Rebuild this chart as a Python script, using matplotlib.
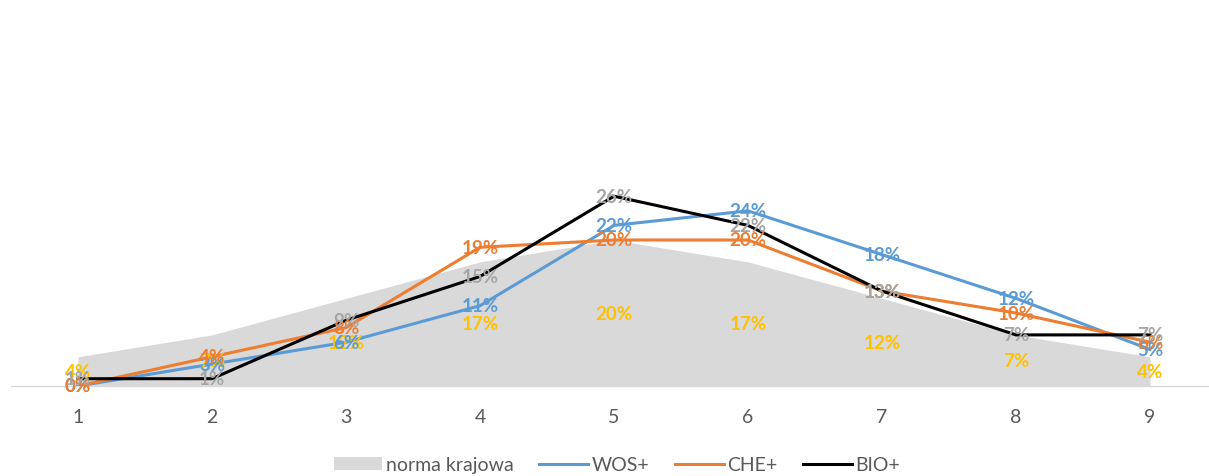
import matplotlib
matplotlib.use("Agg")
import matplotlib.pyplot as plt
from matplotlib.patches import Patch
from matplotlib.lines import Line2D

categories = [1, 2, 3, 4, 5, 6, 7, 8, 9]
norma = [4, 7, 12, 17, 20, 17, 12, 7, 4]
wos = [0, 3, 6, 11, 22, 24, 18, 12, 5]
che = [0, 4, 8, 19, 20, 20, 13, 10, 6]
bio = [1, 1, 9, 15, 26, 22, 13, 7, 7]

plt.rcParams['font.family'] = ['Lato', 'DejaVu Sans']

fig = plt.figure(figsize=(12.09, 4.77), dpi=100)
ax = fig.add_axes([11 / 1209, 1 - 387 / 477, 1206 / 1209, 365 / 477])

ax.fill_between(categories, 0, norma, color='#D9D9D9', lw=0, zorder=1)
ax.plot(categories, wos, color='#5B9BD5', lw=2.2, zorder=2, solid_joinstyle='round')
ax.plot(categories, che, color='#ED7D31', lw=2.2, zorder=3, solid_joinstyle='round')
ax.plot(categories, bio, color='#000000', lw=2.2, zorder=4, solid_joinstyle='round')

lab_kw = dict(ha='center', va='center', fontsize=13.5, fontweight='bold')
for x, v in zip(categories, norma):
    ax.text(x, v / 2, f"{v}%", color='#FFC000', zorder=5, **lab_kw)
for x, v in zip(categories, wos):
    ax.text(x, v, f"{v}%", color='#5B9BD5', zorder=6, **lab_kw)
for x, v in zip(categories, che):
    ax.text(x, v, f"{v}%", color='#ED7D31', zorder=7, **lab_kw)
for x, v in zip(categories, bio):
    ax.text(x, v, f"{v}%", color='#A5A5A5', zorder=8, **lab_kw)

ax.set_xlim(0.5, 9.5)
ax.set_ylim(0, 50)
ax.set_xticks(categories)
ax.set_xticklabels([str(c) for c in categories])
ax.tick_params(axis='x', length=0, labelsize=14, labelcolor='#595959', pad=16)
ax.set_yticks([])
for s in ['top', 'left', 'right']:
    ax.spines[s].set_visible(False)
ax.spines['bottom'].set_color('#D9D9D9')
ax.spines['bottom'].set_linewidth(1.0)
ax.patch.set_alpha(0)

handles = [
    Patch(facecolor='#D9D9D9', edgecolor='none', label='norma krajowa'),
    Line2D([0], [0], color='#5B9BD5', lw=2.2, label='WOS+'),
    Line2D([0], [0], color='#ED7D31', lw=2.2, label='CHE+'),
    Line2D([0], [0], color='#000000', lw=2.2, label='BIO+'),
]
fig.legend(handles=handles, loc='center', bbox_to_anchor=(617 / 1209, 1 - 466 / 477),
           ncol=4, frameon=False, fontsize=14, labelcolor='#595959',
           handlelength=2.5, handleheight=0.6, columnspacing=1.3, handletextpad=0.2)

fig.savefig('out.png', dpi=100)
